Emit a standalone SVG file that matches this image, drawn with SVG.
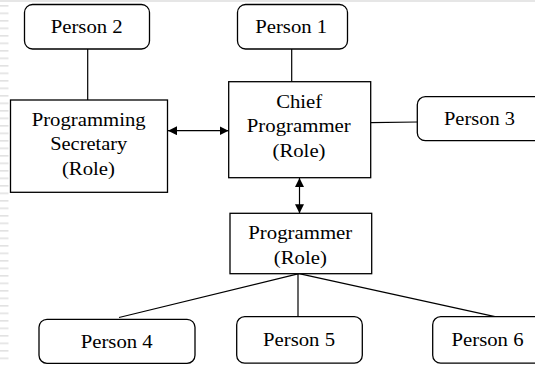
<svg xmlns="http://www.w3.org/2000/svg" width="535" height="365" viewBox="0 0 535 365">
<style>
.box{fill:#fff;stroke:#000;stroke-width:1.3}
.ln{stroke:#000;stroke-width:1.2;fill:none}
text{font-family:'Liberation Serif','Times New Roman',Times,serif;font-size:18px;fill:#000;text-anchor:middle}
.stripe{stroke:#e2e2e2;stroke-width:1.6}
</style>
<defs>
<marker id="ah" viewBox="0 0 10 10" refX="10" refY="5" markerWidth="9" markerHeight="9" markerUnits="userSpaceOnUse" orient="auto-start-reverse">
<path d="M0,0 L10,5 L0,10 z" fill="#000"/>
</marker>
<pattern id="strp" x="0" y="5" width="10" height="7.5" patternUnits="userSpaceOnUse">
<line x1="0" y1="0.8" x2="8.5" y2="0.8" class="stripe"/>
</pattern>
</defs>
<rect width="535" height="365" fill="#fff"/>
<rect x="0" y="0" width="535" height="2" fill="#e6e6e6"/>
<rect x="0" y="5" width="9" height="360" fill="url(#strp)"/>
<g id="connectors">
<line class="ln" x1="87.7" y1="49" x2="87.7" y2="100"/>
<line class="ln" x1="291.7" y1="49" x2="291.7" y2="82"/>
<line class="ln" x1="370.7" y1="122.7" x2="417.5" y2="122"/>
<line class="ln" x1="168" y1="130.7" x2="228.5" y2="130.7" marker-start="url(#ah)" marker-end="url(#ah)"/>
<line class="ln" x1="299.5" y1="178" x2="299.5" y2="213.3" marker-start="url(#ah)" marker-end="url(#ah)"/>
<line class="ln" x1="299" y1="273.7" x2="119" y2="317.5"/>
<line class="ln" x1="298" y1="273.7" x2="298" y2="316.7"/>
<line class="ln" x1="299" y1="273.7" x2="495" y2="316.7"/>
</g>
<g id="person2"><rect class="box" x="24.5" y="4.5" width="125" height="44.5" rx="8"/><text x="86.7" y="33.3" textLength="72" lengthAdjust="spacingAndGlyphs">Person 2</text></g>
<g id="person1"><rect class="box" x="237.5" y="4.5" width="110" height="44.5" rx="8"/><text x="291.2" y="33.3" textLength="72" lengthAdjust="spacingAndGlyphs">Person 1</text></g>
<g id="secretary"><rect class="box" x="10.5" y="100" width="157" height="92.3"/><text x="88.7" y="126" textLength="114" lengthAdjust="spacingAndGlyphs">Programming</text><text x="88.7" y="150" textLength="77" lengthAdjust="spacingAndGlyphs">Secretary</text><text x="88.4" y="174.5" textLength="53" lengthAdjust="spacingAndGlyphs">(Role)</text></g>
<g id="chief"><rect class="box" x="228.7" y="81.7" width="142" height="96"/><text x="299.2" y="108.3" textLength="46" lengthAdjust="spacingAndGlyphs">Chief</text><text x="298.8" y="132.3" textLength="104" lengthAdjust="spacingAndGlyphs">Programmer</text><text x="299" y="157" textLength="53" lengthAdjust="spacingAndGlyphs">(Role)</text></g>
<g id="person3"><rect class="box" x="417.3" y="96.7" width="130" height="44" rx="8"/><text x="479.5" y="125" textLength="71" lengthAdjust="spacingAndGlyphs">Person 3</text></g>
<g id="programmer"><rect class="box" x="230" y="213.3" width="141.7" height="60.4"/><text x="300.3" y="239.3" textLength="104" lengthAdjust="spacingAndGlyphs">Programmer</text><text x="300.3" y="264" textLength="53" lengthAdjust="spacingAndGlyphs">(Role)</text></g>
<g id="person4"><rect class="box" x="39" y="319.3" width="156" height="44" rx="8"/><text x="116.7" y="347.7" textLength="72" lengthAdjust="spacingAndGlyphs">Person 4</text></g>
<g id="person5"><rect class="box" x="236.7" y="316.7" width="125.6" height="46.5" rx="8"/><text x="299" y="345.7" textLength="72" lengthAdjust="spacingAndGlyphs">Person 5</text></g>
<g id="person6"><rect class="box" x="432.7" y="316.7" width="120" height="46.5" rx="8"/><text x="487.5" y="345.7" textLength="72" lengthAdjust="spacingAndGlyphs">Person 6</text></g>
</svg>
